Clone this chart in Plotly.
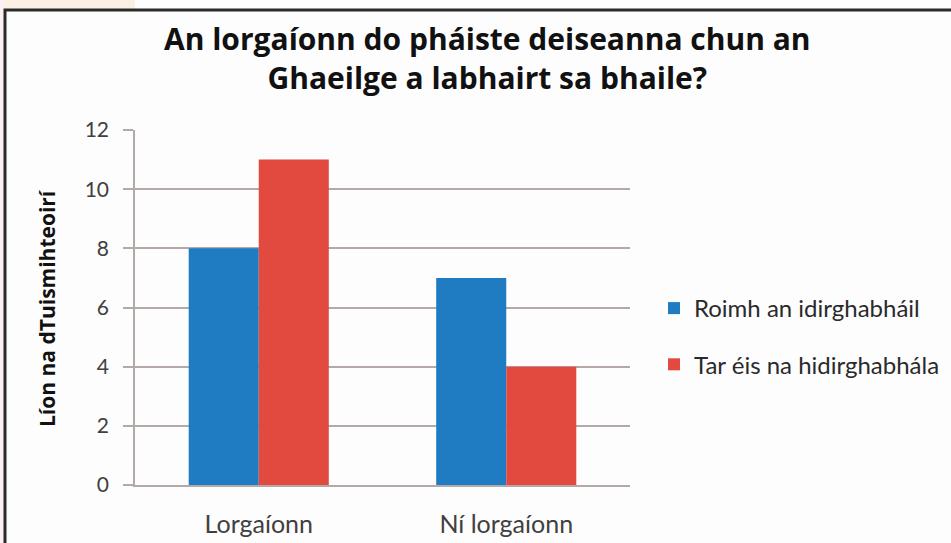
import plotly.graph_objects as go

categories = ["Lorgaíonn", "Ní lorgaíonn"]
series_names = ["Roimh an idirghabháil", "Tar éis na hidirghabhála"]
before_values = [8, 7]
after_values = [11, 4]
y_ticks = [0, 2, 4, 6, 8, 10, 12]
title_lines = ["An lorgaíonn do pháiste deiseanna chun an", "Ghaeilge a labhairt sa bhaile?"]
y_title = "Líon na dTuismihteoirí"

W, H = 951, 543
L, R, T, B = 135, 630, 130, 485


def px(x):
    return (x - L) / (R - L)


def py(y):
    return (B - y) / (B - T)


BLUE = "#1f7cc3"
RED = "#e2493f"
GRID = "#b3aaa8"
TXT = "#404040"

fig = go.Figure()
fig.add_bar(x=categories, y=before_values, name=series_names[0], marker_color=BLUE,
            marker_line_width=0, legendgroup="a")
fig.add_bar(x=categories, y=after_values, name=series_names[1], marker_color=RED,
            marker_line_width=0, legendgroup="b")

shapes = [
    dict(type="rect", xref="paper", yref="paper", x0=px(0), x1=px(135), y0=py(0), y1=py(10),
         fillcolor="#fcefe4", line_width=0, layer="below"),
    dict(type="rect", xref="paper", yref="paper", x0=px(0), x1=px(4), y0=py(0), y1=py(543),
         fillcolor="#fcf0f2", line_width=0, layer="below"),
    dict(type="rect", xref="paper", yref="paper", x0=px(5), x1=px(960), y0=py(10), y1=py(560),
         fillcolor="rgba(0,0,0,0)", line=dict(color="#2b2b2b", width=3), layer="above"),
]

annotations = [
    dict(text="<br>".join(title_lines), xref="paper", yref="paper", x=px(487), y=py(58),
         xanchor="center", yanchor="middle", showarrow=False,
         font=dict(family="Open Sans", size=30, color="#111111", weight="bold")),
    dict(text=y_title, xref="paper", yref="paper", x=px(47), y=py(308), textangle=-90,
         xanchor="center", yanchor="middle", showarrow=False,
         font=dict(family="Open Sans", size=21, color="#111111", weight="bold")),
]

fig.update_layout(
    width=W, height=H,
    margin=dict(l=L, r=W - R, t=T, b=H - B, autoexpand=False),
    paper_bgcolor="#fdfdfd", plot_bgcolor="#fdfdfd",
    barmode="group", bargap=0.434, bargroupgap=0,
    shapes=shapes, annotations=annotations,
    legend=dict(x=px(654), y=py(286), xanchor="left", yanchor="top",
                font=dict(family="Lato", size=24, color="#2a2a2a"),
                traceorder="grouped", tracegroupgap=22, bgcolor="rgba(0,0,0,0)"),
    font=dict(family="Lato", color=TXT),
)
fig.update_yaxes(range=[0, 12], tickvals=y_ticks, showgrid=True, gridcolor=GRID, gridwidth=1.5,
                 showline=True, linecolor=GRID, linewidth=1.5, ticks="outside", ticklen=10,
                 tickcolor=GRID, tickwidth=1.5, tickfont=dict(family="Lato", size=21, color=TXT),
                 ticklabelstandoff=10, zeroline=False, automargin=False)
fig.update_xaxes(showline=True, linecolor=GRID, linewidth=1.5, ticks="",
                 tickfont=dict(family="Lato", size=25, color=TXT), ticklabelstandoff=16,
                 automargin=False)

fig.write_html("out.html", config={"displayModeBar": False},
               post_script="document.body.style.margin='0';document.body.style.overflow='hidden';")
